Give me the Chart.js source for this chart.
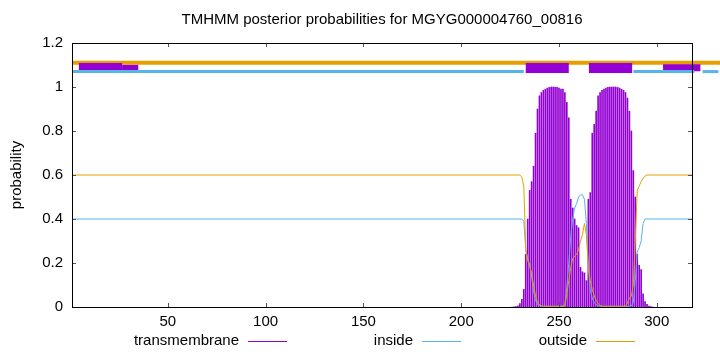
<!DOCTYPE html>
<html>
<head>
<meta charset="utf-8">
<script src="https://cdn.jsdelivr.net/npm/chart.js@4.4.1/dist/chart.umd.min.js"></script>
<style>
  html, body { margin: 0; padding: 0; background: #fff; }
  #wrap { width: 720px; height: 352px; }
</style>
</head>
<body>
<div id="wrap"><canvas id="tmChart"></canvas></div>
<script>
const TITLE = "TMHMM posterior probabilities for MGYG000004760_00816";
const FONT = "'Liberation Sans', Arial, sans-serif";

// sequence range and tick labels
const seqStart = 1;
const seqEnd = 318;
const xTicks = [50, 100, 150, 200, 250, 300];
const yTicks = [0, 0.2, 0.4, 0.6, 0.8, 1, 1.2];

// residues where the posteriors move (flat before and after)
const residues = [
  226, 227, 228, 229, 230, 231, 232, 233, 234, 235, 236, 237, 238, 239, 240,
  241, 242, 243, 244, 245, 246, 247, 248, 249, 250, 251, 252, 253, 254, 255,
  256, 257, 258, 259, 260, 261, 262, 263, 264, 265, 266, 267, 268, 269, 270,
  271, 272, 273, 274, 275, 276, 277, 278, 279, 280, 281, 282, 283, 284, 285,
  286, 287, 288, 289, 290, 291, 292, 293, 294, 295, 296, 297, 298
];
const transmembrane = [
  0, 0.001, 0.002, 0.005, 0.015, 0.035, 0.08, 0.24, 0.40, 0.53, 0.57, 0.64, 0.79, 0.90, 0.96,
  0.975, 0.985, 0.99, 0.995, 0.998, 1.0, 1.0, 1.0, 0.998, 0.995, 0.99, 0.99, 0.975, 0.93, 0.86,
  0.49, 0.45, 0.40, 0.37, 0.36, 0.18, 0.16, 0.155, 0.12, 0.49, 0.52, 0.79, 0.83, 0.89, 0.96,
  0.975, 0.985, 0.99, 0.995, 0.998, 1.0, 1.0, 1.0, 1.0, 0.998, 0.995, 0.99, 0.985, 0.975, 0.95,
  0.89, 0.80, 0.62, 0.50, 0.24, 0.19, 0.17, 0.06, 0.025, 0.012, 0.004, 0.002, 0
];
const inside = [
  0.40, 0.40, 0.40, 0.40, 0.40, 0.40, 0.39, 0.26, 0.22, 0.19, 0.14, 0.07, 0.03, 0.012, 0.006,
  0.004, 0.003, 0.003, 0.003, 0.003, 0.003, 0.003, 0.003, 0.003, 0.003, 0.004, 0.005, 0.01, 0.09, 0.20,
  0.32, 0.40, 0.45, 0.47, 0.50, 0.51, 0.51, 0.49, 0.38, 0.18, 0.08, 0.04, 0.02, 0.01, 0.005,
  0.003, 0.003, 0.003, 0.003, 0.003, 0.003, 0.003, 0.003, 0.003, 0.003, 0.003, 0.003, 0.003, 0.003, 0.003,
  0.003, 0.005, 0.02, 0.12, 0.25, 0.27, 0.30, 0.38, 0.40, 0.40, 0.40, 0.40, 0.40
];
const outside = [
  0.60, 0.60, 0.60, 0.60, 0.60, 0.59, 0.55, 0.26, 0.21, 0.19, 0.15, 0.10, 0.05, 0.02, 0.01,
  0.005, 0.003, 0.003, 0.003, 0.003, 0.003, 0.003, 0.003, 0.003, 0.003, 0.003, 0.003, 0.003, 0.06, 0.12,
  0.18, 0.22, 0.23, 0.24, 0.26, 0.30, 0.33, 0.38, 0.33, 0.18, 0.12, 0.08, 0.05, 0.03, 0.015,
  0.008, 0.003, 0.003, 0.003, 0.003, 0.003, 0.003, 0.003, 0.003, 0.003, 0.003, 0.003, 0.003, 0.003, 0.02,
  0.04, 0.05, 0.10, 0.30, 0.53, 0.55, 0.57, 0.585, 0.595, 0.60, 0.60, 0.60, 0.60
];

// predicted topology strips above the curves (residue from, to)
const outsideStrips = [[1, 333]];
const insideStrips = [[1, 232], [288, 319.2], [323.4, 331.5]];
const helixStrips = [[4.5, 26.6], [26.6, 34.9], [233, 255], [265.3, 287.4], [303.2, 322.3]];
const outsideLevel = 1.11;
const insideLevel = 1.07;
const helixLevels = [1.091, 1.087, 1.086, 1.086, 1.087];

const PURPLE = "#9400d3";
const BLUE = "#56b4e9";
const ORANGE = "#e69f00";

function curve(values) {
  const pts = [{ x: seqStart, y: values[0] }];
  residues.forEach((r, i) => pts.push({ x: r, y: values[i] }));
  pts.push({ x: seqEnd, y: values[values.length - 1] });
  return pts;
}

function strip(seg, level, color, width, order) {
  return {
    type: "line",
    data: [{ x: seg[0], y: level }, { x: seg[1], y: level }],
    borderColor: color,
    borderWidth: width,
    borderCapStyle: "butt",
    pointRadius: 0,
    fill: false,
    clip: false,
    order: order
  };
}

const datasets = [];

datasets.push({
  type: "bar",
  label: "transmembrane",
  data: residues.map((r, i) => ({ x: r, y: transmembrane[i] })),
  backgroundColor: PURPLE,
  borderWidth: 0,
  barThickness: 1,
  grouped: false,
  order: 10
});
datasets.push({
  type: "line",
  label: "inside",
  data: curve(inside),
  borderColor: BLUE,
  borderWidth: 1,
  pointRadius: 0,
  tension: 0,
  fill: false,
  order: 6
});
datasets.push({
  type: "line",
  label: "outside",
  data: curve(outside),
  borderColor: ORANGE,
  borderWidth: 1,
  pointRadius: 0,
  tension: 0,
  fill: false,
  order: 5
});

outsideStrips.forEach(s => datasets.push(strip(s, outsideLevel, ORANGE, 4, 4)));
const helixWidths = [8, 6, 10, 10, 7];
helixStrips.forEach((s, i) => datasets.push(strip(s, helixLevels[i], PURPLE, helixWidths[i], 3)));
insideStrips.forEach(s => datasets.push(strip(s, insideLevel, BLUE, 3, 2)));

// frame, inward ticks, title, axis title and legend like gnuplot
const gnuplotDecor = {
  id: "gnuplotDecor",
  afterDraw(chart) {
    const ctx = chart.ctx;
    const a = chart.chartArea;
    const xs = chart.scales.x, ys = chart.scales.y;
    ctx.save();

    ctx.strokeStyle = "#555";
    ctx.lineWidth = 1;
    xTicks.forEach(v => {
      const px = Math.round(xs.getPixelForValue(v)) + 0.5;
      ctx.beginPath();
      ctx.moveTo(px, a.bottom); ctx.lineTo(px, a.bottom - 4);
      ctx.moveTo(px, a.top); ctx.lineTo(px, a.top + 4);
      ctx.stroke();
    });
    yTicks.forEach(v => {
      const py = Math.round(ys.getPixelForValue(v)) + 0.5;
      ctx.beginPath();
      ctx.moveTo(a.left, py); ctx.lineTo(a.left + 4, py);
      ctx.moveTo(a.right, py); ctx.lineTo(a.right - 4, py);
      ctx.stroke();
    });

    ctx.strokeStyle = "#000";
    ctx.strokeRect(Math.round(a.left) + 0.5, Math.round(a.top) + 0.5,
      Math.round(a.right - a.left), Math.round(a.bottom - a.top));

    ctx.fillStyle = "#000";
    ctx.font = "15px " + FONT;
    ctx.textAlign = "center";
    ctx.textBaseline = "middle";
    ctx.fillText(TITLE, (a.left + a.right) / 2, 20);

    ctx.save();
    ctx.translate(17, (a.top + a.bottom) / 2);
    ctx.rotate(-Math.PI / 2);
    ctx.fillText("probability", 0, 0);
    ctx.restore();

    const legend = [
      ["transmembrane", PURPLE, 239],
      ["inside", BLUE, 413],
      ["outside", ORANGE, 587]
    ];
    ctx.textAlign = "right";
    legend.forEach(([label, color, x]) => {
      ctx.fillStyle = "#000";
      ctx.fillText(label, x, 341);
      ctx.strokeStyle = color;
      ctx.beginPath();
      ctx.moveTo(x + 9, 341.5);
      ctx.lineTo(x + 48, 341.5);
      ctx.stroke();
    });
    ctx.restore();
  }
};

new Chart(document.getElementById("tmChart"), {
  type: "bar",
  data: { datasets: datasets },
  options: {
    responsive: true,
    maintainAspectRatio: false,
    devicePixelRatio: 1,
    animation: false,
    events: [],
    layout: { padding: { top: 43, right: 28, left: 0, bottom: 0 } },
    plugins: {
      legend: { display: false },
      title: { display: false },
      tooltip: { enabled: false }
    },
    scales: {
      x: {
        type: "linear",
        min: seqStart,
        max: seqEnd,
        offset: false,
        grid: { display: false, drawTicks: false },
        border: { display: false },
        afterBuildTicks: s => { s.ticks = xTicks.map(v => ({ value: v })); },
        afterFit: s => { s.height = 45; },
        ticks: {
          padding: 6,
          autoSkip: false,
          maxRotation: 0,
          color: "#000",
          font: { family: FONT, size: 15 }
        }
      },
      y: {
        min: 0,
        max: 1.2,
        grid: { display: false, drawTicks: false },
        border: { display: false },
        afterBuildTicks: s => { s.ticks = yTicks.map(v => ({ value: v })); },
        afterFit: s => { s.width = 72; },
        ticks: {
          padding: 9,
          color: "#000",
          font: { family: FONT, size: 15 },
          callback: v => String(v)
        }
      }
    }
  },
  plugins: [gnuplotDecor]
});
</script>
</body>
</html>
